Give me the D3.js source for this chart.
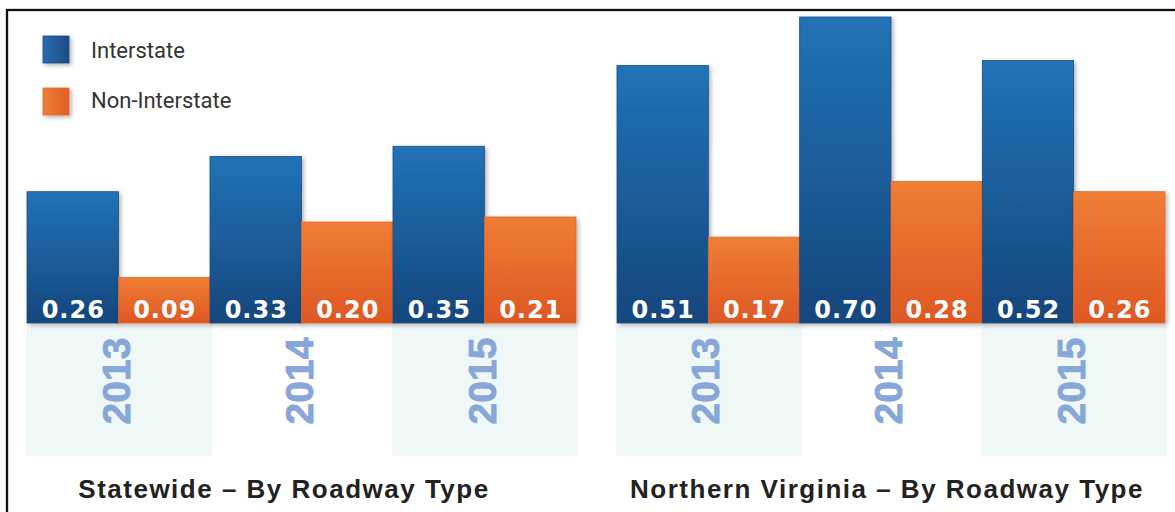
<!DOCTYPE html>
<html>
<head>
<meta charset="utf-8">
<script src="https://cdn.jsdelivr.net/npm/d3@7"></script>
<style>
  html, body { margin: 0; padding: 0; background: #fff; }
  svg { display: block; }
</style>
</head>
<body>
<div id="chart"></div>
<script>
'use strict';

// chart values
const years = ["2013", "2014", "2015"];
const seriesNames = ["Interstate", "Non-Interstate"];
const statewideInterstate = [0.26, 0.33, 0.35];
const statewideNonInterstate = [0.09, 0.20, 0.21];
const novaInterstate = [0.51, 0.70, 0.52];
const novaNonInterstate = [0.17, 0.28, 0.26];
const panelTitles = ["Statewide \u2013 By Roadway Type", "Northern Virginia \u2013 By Roadway Type"];

(function() {

  const width = 1175, height = 512;
  const baseY = 323;

  const svg = d3.select('#chart')
    .append('svg')
    .attr('width', width)
    .attr('height', height);

  const defs = svg.append('defs');

  // vertical gradients for bars
  function vGrad(id, top, bottom) {
    let g = defs.append('linearGradient').attr('id', id)
      .attr('x1', 0).attr('y1', 0).attr('x2', 0).attr('y2', 1);
    g.append('stop').attr('offset', '0%').attr('stop-color', top);
    g.append('stop').attr('offset', '100%').attr('stop-color', bottom);
  }
  function hGrad(id, left, right) {
    let g = defs.append('linearGradient').attr('id', id)
      .attr('x1', 0).attr('y1', 0).attr('x2', 1).attr('y2', 0);
    g.append('stop').attr('offset', '0%').attr('stop-color', left);
    g.append('stop').attr('offset', '100%').attr('stop-color', right);
  }
  vGrad('blueV', '#2173b7', '#15467c');
  vGrad('orangeV', '#ef7e34', '#de5824');
  hGrad('blueH', '#2a6cb0', '#1c4c84');
  hGrad('orangeH', '#f07e35', '#df5e28');

  // soft drop shadow
  let f = defs.append('filter').attr('id', 'shadow')
    .attr('x', '-10%').attr('y', '-10%').attr('width', '130%').attr('height', '130%');
  f.append('feDropShadow')
    .attr('dx', 2).attr('dy', 2).attr('stdDeviation', 2)
    .attr('flood-color', '#000').attr('flood-opacity', 0.3);

  const fills = { "Interstate": 'url(#blueV)', "Non-Interstate": 'url(#orangeV)' };
  const strokes = { "Interstate": '#1b4e86', "Non-Interstate": '#e0682c' };

  // shared y scale, tallest bar is cut at the frame top
  const yScale = d3.scaleLinear()
    .domain([0, 0.606])
    .range([baseY, 17])
    .clamp(true);

  // frame
  svg.append('rect')
    .attr('x', 7).attr('y', 10)
    .attr('width', 1200).attr('height', 600)
    .attr('fill', 'none')
    .attr('stroke', '#111')
    .attr('stroke-width', 2.3);

  const panels = [
    { range: [27, 576], a: statewideInterstate, b: statewideNonInterstate, title: panelTitles[0], titleX: 284 },
    { range: [617, 1165], a: novaInterstate, b: novaNonInterstate, title: panelTitles[1], titleX: 887 }
  ];

  panels.forEach(function(p) {
    let x = d3.scaleBand().domain(years).range(p.range).paddingInner(0);
    let xSub = d3.scaleBand().domain(seriesNames).range([0, x.bandwidth()]);

    let rows = years.map((yr, i) => ({ year: yr, values: [
      { series: seriesNames[0], value: p.a[i] },
      { series: seriesNames[1], value: p.b[i] }
    ] }));

    let g = svg.append('g');

    // year bands (alternate)
    g.selectAll('.band')
      .data(years.filter((d, i) => i % 2 === 0))
      .enter()
      .append('rect')
        .attr('x', (d) => x(d) - 1)
        .attr('y', 326)
        .attr('width', (d, i) => x.bandwidth() + 3)
        .attr('height', 130)
        .attr('fill', '#f0f8f7');

    let groups = g.selectAll('.grp')
      .data(rows)
      .enter()
      .append('g')
        .attr('transform', (d) => 'translate(' + x(d.year) + ',0)');

    groups.selectAll('rect')
      .data((d) => d.values)
      .enter()
      .append('rect')
        .attr('x', (d) => xSub(d.series))
        .attr('y', (d) => yScale(d.value))
        .attr('width', xSub.bandwidth())
        .attr('height', (d) => baseY - yScale(d.value))
        .attr('fill', (d) => fills[d.series])
        .attr('stroke', (d) => strokes[d.series])
        .attr('stroke-width', 0.8)
        .attr('filter', 'url(#shadow)');

    groups.selectAll('.val')
      .data((d) => d.values)
      .enter()
      .append('text')
        .attr('x', (d) => xSub(d.series) + xSub.bandwidth() / 2 + 0.5)
        .attr('y', baseY - 5)
        .attr('text-anchor', 'middle')
        .style('font-family', '"DejaVu Sans", sans-serif')
        .style('font-weight', 'bold')
        .style('font-size', '24px')
        .style('letter-spacing', '1px')
        .style('fill', '#fff')
        .text((d) => d.value.toFixed(2));

    // rotated year labels
    groups.append('text')
      .attr('transform', (d) => 'translate(' + (x.bandwidth() / 2 + 11) + ',381)rotate(-90)')
      .attr('text-anchor', 'middle')
      .style('font-family', '"Liberation Sans", Arial, sans-serif')
      .style('font-weight', 'bold')
      .style('font-size', '39px')
      .style('stroke', '#86a7d7')
      .style('stroke-width', 0.8)
      .style('fill', '#86a7d7')
      .text((d) => d.year);

    // panel title
    svg.append('text')
      .attr('x', p.titleX)
      .attr('y', 498)
      .attr('text-anchor', 'middle')
      .style('font-family', '"Liberation Sans", Arial, sans-serif')
      .style('font-weight', 'bold')
      .style('font-size', '26px')
      .style('letter-spacing', '1.5px')
      .style('fill', '#222')
      .text(p.title);
  });

  // legend
  const legendFills = ['url(#blueH)', 'url(#orangeH)'];
  const legendStrokes = ['#1b4a80', '#e0682c'];
  svg.selectAll('.legendBox')
    .data(seriesNames)
    .enter()
    .append('rect')
      .attr('x', 43)
      .attr('y', (d, i) => 36 + 52 * i)
      .attr('width', 26)
      .attr('height', 27)
      .attr('fill', (d, i) => legendFills[i])
      .attr('stroke', (d, i) => legendStrokes[i])
      .attr('stroke-width', 0.8)
      .attr('filter', 'url(#shadow)');

  svg.selectAll('.legendName')
    .data(seriesNames)
    .enter()
    .append('text')
      .attr('x', 91)
      .attr('y', (d, i) => 58 + 50 * i)
      .style('font-family', 'Roboto, sans-serif')
      .style('font-size', '22px')
      .style('fill', '#333')
      .text((d) => d);

})();
</script>
</body>
</html>
